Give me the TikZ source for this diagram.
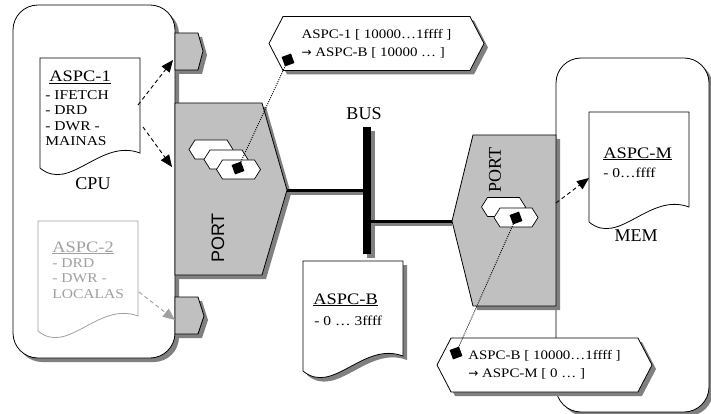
\documentclass[tikz,border=0pt]{standalone}
\usepackage{fontspec}
\setmainfont{Liberation Serif}
\setsansfont{Liberation Sans}
\newfontfamily\wideserif[FakeStretch=1.15]{Liberation Serif}
\newfontfamily\symfont{DejaVu Sans}
\usetikzlibrary{arrows.meta,shapes.symbols,shadows}
\definecolor{portgray}{RGB}{192,192,192}
\definecolor{shadegray}{RGB}{128,128,128}
\definecolor{fadegray}{RGB}{160,160,160}

\begin{document}
\begin{tikzpicture}[x=1pt, y=-1pt, line width=0.8pt, >={Triangle[length=12pt, width=10pt]},
	castshadow/.style={drop shadow={shadow xshift=4pt, shadow yshift=-4pt, fill=shadegray, opacity=1}},
	unit/.style={draw, fill=portgray, castshadow},
	box/.style={draw, fill=white, rounded corners=25pt, castshadow},
	doc/.style={draw, fill=white},
	fadedoc/.style={draw=fadegray, fill=white},
	shadowdoc/.style={draw, fill=white, castshadow},
	hexcell/.style={draw, fill=white, line width=0.7pt},
	marker/.style={fill=black, minimum size=10pt, inner sep=0pt, rotate=20},
	link/.style={dash pattern=on 1pt off 1.2pt, line width=0.9pt},
	flow/.style={->, dash pattern=on 4pt off 3pt, line width=0.9pt},
	callout/.style={signal, signal to=west and east, signal pointer angle=125, draw, fill=white, castshadow, minimum width=215pt, minimum height=54pt, align=left, inner sep=0pt, font=\wideserif\fontsize{13}{18}\selectfont},
	title/.style={anchor=base west, inner sep=0pt, font=\wideserif\fontsize{16}{18}\selectfont},
	items/.style={anchor=north west, inner sep=0pt, align=left, font=\wideserif\fontsize{13.5}{15.5}\selectfont},
	big/.style={inner sep=0pt, font=\fontsize{18}{20}\selectfont}]
	\useasboundingbox (0,0) rectangle (711,414);
	\draw[box] (13,5) rectangle (175,358);
	\draw[box] (556,58) rectangle (709,412);
	\foreach \x/\y/\st in {40/58/doc, 38/221/fadedoc, 303/261/shadowdoc, 589/112/doc}
		\draw[\st] (\x,\y) -- (\x+100,\y) -- (\x+100,\y+95) .. controls (\x+60,\y+80) and (\x+30,\y+135) .. (\x,\y+110) -- cycle;
	\draw[unit] (175,103) -- (262,103) -- (287,190) coordinate (lptip) -- (262,275) -- (175,275) -- cycle;
	\draw[unit] (556,135) -- (473,135) -- (452,221) coordinate (rptip) -- (473,306) -- (556,306) -- cycle;
	\draw[unit] (175,33) -- (198,33) -- (203,51) -- (198,70) -- (175,70) -- cycle;
	\draw[unit] (175,297) -- (198,297) -- (204,316) -- (198,334) -- (175,334) -- cycle;
	\foreach \cx/\cy in {211/149.5, 226/159.5, 238.5/169.5, 503.5/207, 516/217.5}
		\draw[hexcell] (\cx-22,\cy) -- (\cx-16,\cy-9.5) -- (\cx+16,\cy-9.5) -- (\cx+22,\cy) -- (\cx+16,\cy+9.5) -- (\cx-16,\cy+9.5) -- cycle;
	\node[fill=black, castshadow, minimum width=8pt, minimum height=127pt, inner sep=0pt] (bus) at (367,190.5) {};
	\path (bus.west |- lptip) coordinate (lbus) (bus.east |- rptip) coordinate (rbus);
	\draw[shadegray, line width=3pt] ([yshift=-3pt]lptip) -- ([yshift=-3pt]lbus) ([yshift=-3pt]rbus) -- ([yshift=-3pt]rptip);
	\draw[line width=3pt] (lptip) -- (lbus) (rbus) -- (rptip);
	\node[callout] (mapb) at (376.5,43.5) {ASPC-1 [ 10000…1ffff ]\\{\symfont\fontsize{12}{18}\selectfont →} ASPC-B [ 10000 … ]};
	\node[callout] (mapm) at (544.5,365) {ASPC-B [ 10000…1ffff ]\\{\symfont\fontsize{12}{18}\selectfont →} ASPC-M [ 0 … ]};
	\node[marker] (sqa) at (238,168) {};
	\node[marker] (sqb) at (288,60) {};
	\node[marker] (sqc) at (516,218) {};
	\node[marker] (sqd) at (456,353) {};
	\draw[link] (sqa.center) -- (sqb.center);
	\draw[link] (sqc.center) -- (sqd.center);
	\coordinate (o1) at (138,105);
	\coordinate (i1) at (173,60);
	\coordinate (o2) at (143,127);
	\coordinate (i2) at (172,167);
	\coordinate (o3) at (139,292);
	\coordinate (i3) at (175,320);
	\coordinate (o4) at (556,203);
	\coordinate (i4) at (589,178);
	\draw[flow] (o1) -- (i1);
	\draw[flow] (o2) -- (i2);
	\draw[flow, fadegray] (o3) -- (i3);
	\draw[flow] (o4) -- (i4);
	\node[big, anchor=base] (cpuname) at (93,189) {CPU};
	\node[big, anchor=base] (memname) at (636,241) {MEM};
	\node[big, anchor=base] (busname) at (364,120) {BUS};
	\node[big, rotate=90, font=\sffamily\fontsize{18}{20}\selectfont] (lportname) at (218,238) {PORT};
	\node[big, rotate=90] (rportname) at (495,170) {PORT};
	\node[title] (asp1) at (49,82) {\underline{ASPC-1}};
	\node[items] (asp1list) at (45,90) {- IFETCH\\- DRD\\- DWR -\\MAINAS};
	\node[title, fadegray] (asp2) at (52,252) {\underline{ASPC-2}};
	\node[items, fadegray] (asp2list) at (52,258) {- DRD\\- DWR -\\LOCALAS};
	\node[title] (aspb) at (313,304) {\underline{ASPC-B}};
	\node[items] (aspblist) at (314,316) {- 0 … 3ffff};
	\node[title] (aspm) at (603,158) {\underline{ASPC-M}};
	\node[items] (aspmlist) at (603,168) {- 0…ffff};
\end{tikzpicture}
\end{document}
